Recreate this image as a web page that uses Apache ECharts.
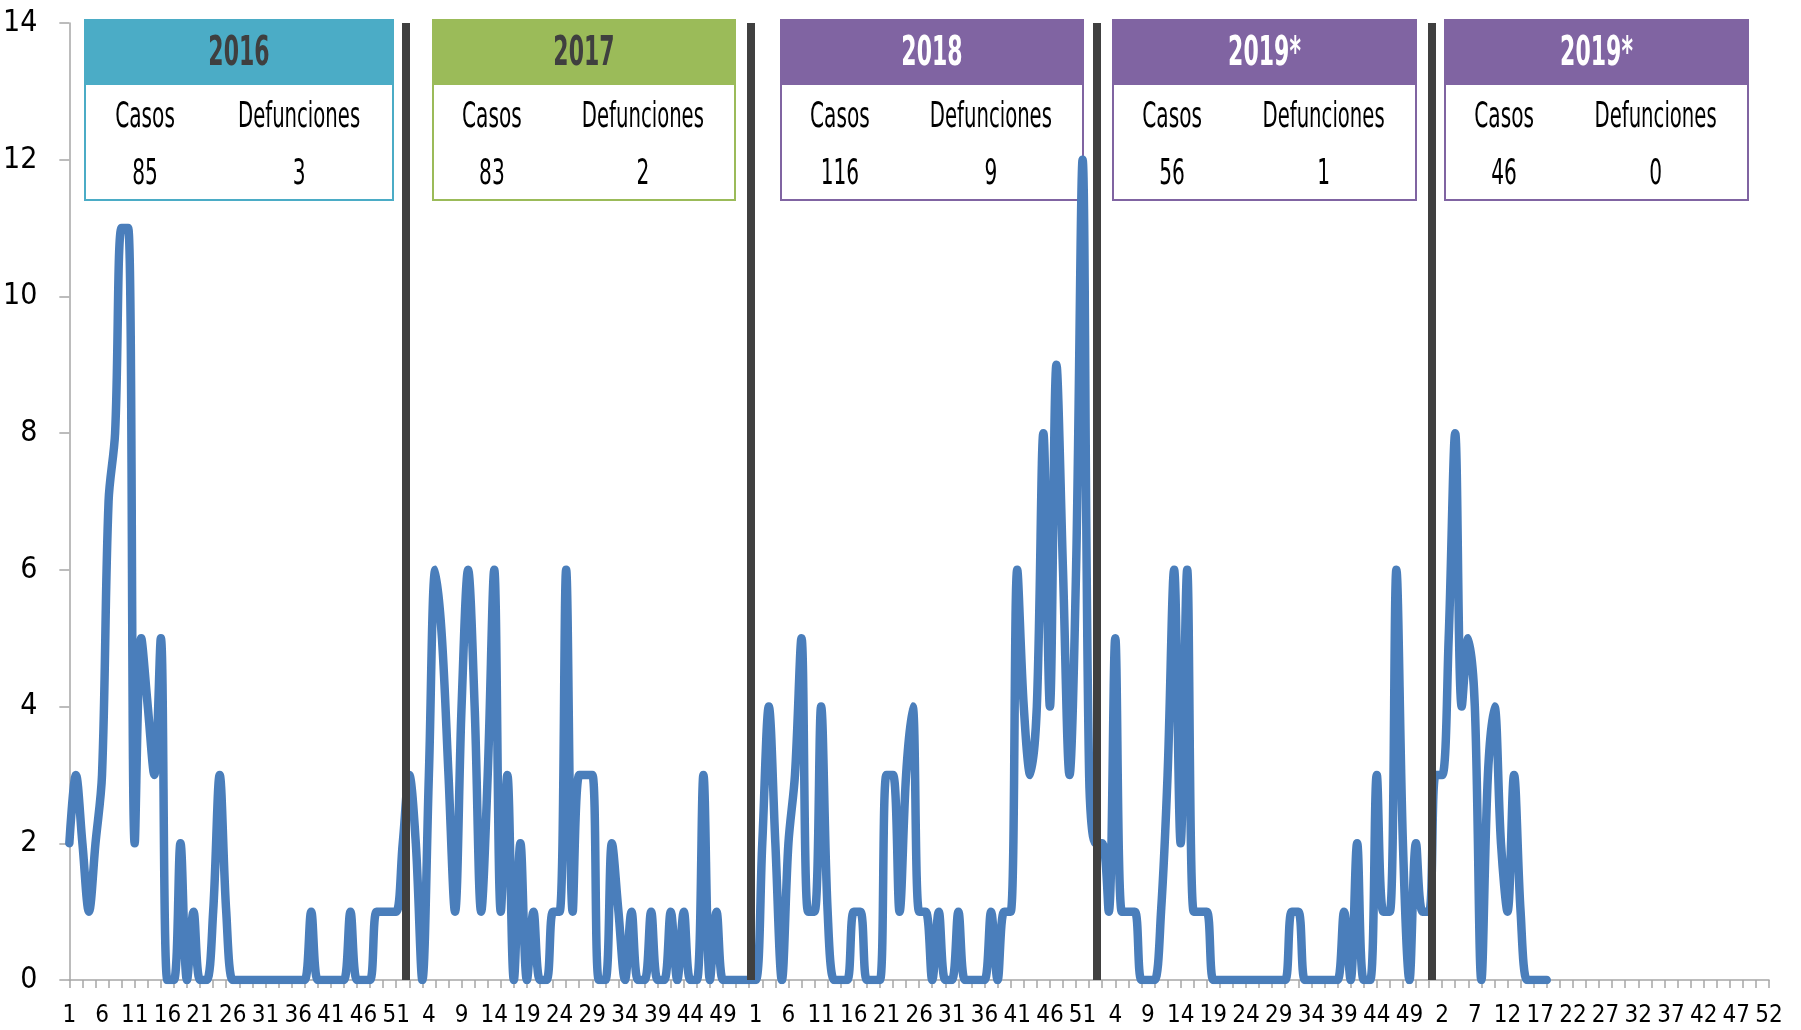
<!DOCTYPE html>
<html>
<head>
<meta charset="utf-8">
<script src="https://cdn.jsdelivr.net/npm/echarts@6/dist/echarts.min.js"></script>
<style>
html,body{margin:0;padding:0;background:#fff;}
#chart{width:1801px;height:1030px;}
</style>
</head>
<body>
<div id="chart"></div>
<script>
// ---- data ----
const casos2016 = [2,3,2,1,2,3,7,8,11,11, 2,5,4,3,5,0,0,2,0,1, 0,0,1,3,1,0,0,0,0,0, 0,0,0,0,0,0,0,1,0,0, 0,0,0,1,0,0,0,1,1,1, 1,2];
const casos2017 = [3,2,0,3,6,5,3,1,4,6, 4,1,3,6,1,3,0,2,0,1, 0,0,1,1,6,1,3,3,3,0, 0,2,1,0,1,0,0,1,0,0, 1,0,1,0,0,3,0,1,0,0, 0,0,0];
const casos2018 = [0,2,4,2,0,2,3,5,1,1, 4,1,0,0,0,1,1,0,0,0, 3,3,1,3,4,1,1,0,1,0, 0,1,0,0,0,0,1,0,1,1, 6,4,3,4,8,4,9,6,3,6, 12,3];
const casos2019 = [2,2,1,5,1,1,1,0,0,0, 1,3,6,2,6,1,1,1,0,0, 0,0,0,0,0,0,0,0,0,0, 1,1,0,0,0,0,0,0,1,0, 2,0,0,3,1,1,6,2,0,2, 1,1];
const casos2019b = [3,3,5,8,4,5,4,0,3,4, 2,1,3,1,0,0,0,0];
const weeksPerYear = [52, 53, 52, 52, 52];

const boxYears = ['2016', '2017', '2018', '2019*', '2019*'];
const boxCasos = [85, 83, 116, 56, 46];
const boxDefunciones = [3, 2, 9, 1, 0];
const separatorPositions = [51.5, 104.25, 157.2, 208.4];

// ---- styles / layout ----
const boxColors = ['#4BACC6', '#9BBB59', '#8064A2', '#8064A2', '#8064A2'];
const boxTitleColors = ['#3F3F3F', '#3F3F3F', '#FFFFFF', '#FFFFFF', '#FFFFFF'];
const boxLeft = [85, 433, 781, 1113, 1445];
const boxWidth = [308, 302, 302, 303, 303];
const FONT = "'Liberation Sans Narrow','DejaVu Sans Condensed','Arial Narrow',sans-serif";

// categories (week numbers per year)
const weekLabels = [];
weeksPerYear.forEach(n => { for (let w = 1; w <= n; w++) weekLabels.push(String(w)); });

const allYears = [casos2016, casos2017, casos2018, casos2019, casos2019b];
const lineData = [];
allYears.forEach((arr, i) => {
  for (let w = 0; w < weeksPerYear[i]; w++) lineData.push(w < arr.length ? arr[w] : null);
});

const total = weekLabels.length;

// boxes
const elements = [];
boxYears.forEach((yr, i) => {
  const x = boxLeft[i], w = boxWidth[i], top = 20, hh = 64, h = 180;
  elements.push({type: 'rect', z: 0, shape: {x: x, y: top, width: w, height: h},
    style: {fill: '#fff', stroke: boxColors[i], lineWidth: 2}});
  elements.push({type: 'rect', z: 0, shape: {x: x, y: top, width: w, height: hh},
    style: {fill: boxColors[i], stroke: boxColors[i], lineWidth: 2}});
  const t = (txt, cx, cy, size, weight, color, sx, sy) => ({
    type: 'text', z: 1, x: cx, y: cy, scaleX: sx, scaleY: sy,
    style: {text: txt, x: 0, y: 0, fontSize: size, fontWeight: weight, fontFamily: FONT, fill: color,
      align: 'center', verticalAlign: 'middle', textAlign: 'center', textVerticalAlign: 'middle'}
  });
  elements.push(t(yr, x + w / 2, top + hh / 2 + 2, 34, 'bold', boxTitleColors[i], 0.72, 1.2));
  elements.push(t('Casos', x + 0.195 * w, 118, 28, 'normal', '#000', 0.8, 1.25));
  elements.push(t('Defunciones', x + 0.695 * w, 118, 28, 'normal', '#000', 0.78, 1.25));
  elements.push(t(String(boxCasos[i]), x + 0.195 * w, 175, 28, 'normal', '#000', 0.8, 1.25));
  elements.push(t(String(boxDefunciones[i]), x + 0.695 * w, 175, 28, 'normal', '#000', 0.8, 1.25));
});

const chart = echarts.init(document.getElementById('chart'), null, {renderer: 'canvas'});
chart.setOption({
  animation: false,
  backgroundColor: '#fff',
  grid: {left: 67, right: 32, top: 23, bottom: 50, containLabel: false},
  xAxis: [{
    type: 'category', data: weekLabels, boundaryGap: false,
    axisLine: {lineStyle: {color: '#A6A6A6', width: 1.5}},
    axisTick: {interval: 1, length: 8, lineStyle: {color: '#A6A6A6', width: 1.5}},
    axisLabel: {interval: 4, color: '#000', fontSize: 24, fontFamily: FONT, margin: 24},
    splitLine: {show: false}
  }, {
    type: 'value', min: 0, max: total - 1, show: false
  }],
  yAxis: {
    type: 'value', min: 0, max: 14, interval: 2,
    axisLine: {show: true, lineStyle: {color: '#A6A6A6', width: 1.5}},
    axisTick: {show: true, length: 10, lineStyle: {color: '#A6A6A6', width: 1.5}},
    axisLabel: {color: '#000', fontSize: 30, fontFamily: FONT, margin: 32},
    splitLine: {show: false}
  },
  graphic: {elements: elements},
  series: [{
    type: 'line', xAxisIndex: 1, z: 3,
    data: separatorPositions.map(v => [v, 0]),
    symbol: 'none', lineStyle: {opacity: 0}, silent: true,
    markLine: {
      silent: true, symbol: 'none', label: {show: false},
      lineStyle: {color: '#404040', width: 8, type: 'solid'},
      data: separatorPositions.map(v => ({xAxis: v}))
    }
  }, {
    type: 'line', xAxisIndex: 0, z: 4,
    data: lineData, smooth: 0.35, symbol: 'none', connectNulls: false,
    lineStyle: {color: '#4A7EBB', width: 8.5, cap: 'round', join: 'round'}
  }]
});
</script>
</body>
</html>
